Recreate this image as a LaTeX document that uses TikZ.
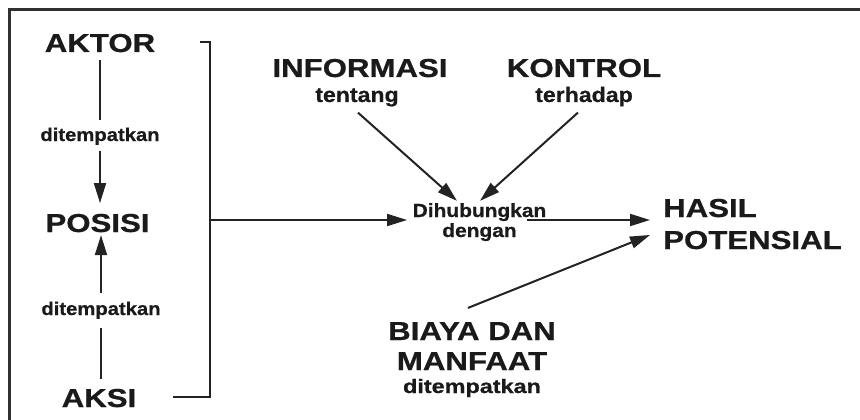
\documentclass[tikz,border=0pt]{standalone}
\usepackage{fontspec}
\setmainfont{Liberation Sans}[FakeStretch=1.2, BoldFeatures={FakeBold=0.7}]
\newfontfamily\labelfont{Liberation Sans}[FakeStretch=1.1, BoldFeatures={FakeBold=0.6}]
\usetikzlibrary{arrows.meta}
\definecolor{ink}{HTML}{1A1A1A}
\definecolor{wire}{HTML}{232323}
\definecolor{rim}{HTML}{303030}
\tikzset{
  big/.style={inner sep=0pt, anchor=base, text=ink,
    font=\fontsize{26}{30}\selectfont\bfseries},
  small/.style={inner sep=0pt, anchor=base, text=ink,
    font=\labelfont\fontsize{18.4}{20}\selectfont\bfseries},
  mid/.style={inner sep=0pt, anchor=base, text=ink,
    font=\labelfont\fontsize{21}{24}\selectfont\bfseries},
  wireline/.style={draw=wire, line width=2pt},
  arr/.style={wireline, -{Triangle[length=20pt,width=12pt]}},
  rimline/.style={draw=rim, line width=3pt}
}
\begin{document}
\begin{tikzpicture}[x=1pt,y=-1pt]
\useasboundingbox (0,0) rectangle (860,420);
\fill[white] (0,0) rectangle (860,420);
% outer frame (top and left edges)
\draw[rimline] (9,422) -- (9,10) -- (862,10);

% left column
\node[big]   (aktor)   at (100,52)  {AKTOR};
\node[small] (dt1)     at (100,141) {ditempatkan};
\node[big]   (posisi)  at (97.5,232) {POSISI};
\node[small] (dt2)     at (101,315) {ditempatkan};
\node[big]   (aksi)    at (99,407)  {AKSI};

% upper inputs
\node[big] (info)    at (360,77)  {INFORMASI};
\node[mid] (tent)    at (357,102) {tentang};
\node[big] (kontrol) at (584,77)  {KONTROL};
\node[mid] (terh)    at (584,102) {terhadap};

% centre
\node[small, font=\labelfont\fontsize{19}{20}\selectfont\bfseries] (dih1) at (479.5,217) {Dihubungkan};
\node[small, font=\labelfont\fontsize{19}{20}\selectfont\bfseries] (dih2) at (479.5,237) {dengan};

% outcome
\node[big, anchor=base west] (hasil) at (663,217) {HASIL};
\node[big, anchor=base west] (poten) at (663,249) {POTENSIAL};

% costs and benefits
\node[big] (biaya)   at (472,340) {BIAYA DAN};
\node[big] (manfaat) at (472,370) {MANFAAT};
\node[mid, font=\fontsize{19.5}{22}\selectfont\bfseries] (dt3) at (472,393) {ditempatkan};

% vertical arrows of the left column
\draw[wireline, shorten <=8pt, shorten >=7pt] (aktor.south -| dt1) -- (dt1.north);
\draw[arr, shorten <=6pt, shorten >=10.6pt] (dt1.south) -- (posisi.north -| dt1);
\draw[wireline, shorten <=10pt, shorten >=9pt] (aksi.north -| dt2) -- (dt2.south);
\draw[arr, shorten <=8pt, shorten >=2.7pt] (dt2.north) -- (posisi.south -| dt2);

% bracket joining actor and action
\coordinate (brTL) at (200,42);
\coordinate (brTR) at (210,42);
\coordinate (brM)  at (210,220);
\coordinate (brBR) at (210,397);
\coordinate (brBL) at (173,397);
\draw[wireline] (brTL) -- (brTR) -- (brBR) -- (brBL);
\draw[arr, shorten >=5.5pt] (brM) -- (brM -| dih1.west);

% information and control
\draw[arr] ([shift={(1,6)}]tent.south) -- ([shift={(-22.5,-2.2)}]dih1.north);
\draw[arr] ([shift={(-6,6)}]terh.south) -- ([shift={(0.5,-2.2)}]dih1.north);

% towards the potential outcome
\draw[arr] ([shift={(-19.5,3)}]dih1.base east) -- ([shift={(-13,3)}]hasil.base west);
\draw[arr] ([shift={(-4,-14)}]biaya.north) -- ([shift={(-13,-14)}]poten.base west);
\end{tikzpicture}
\end{document}
